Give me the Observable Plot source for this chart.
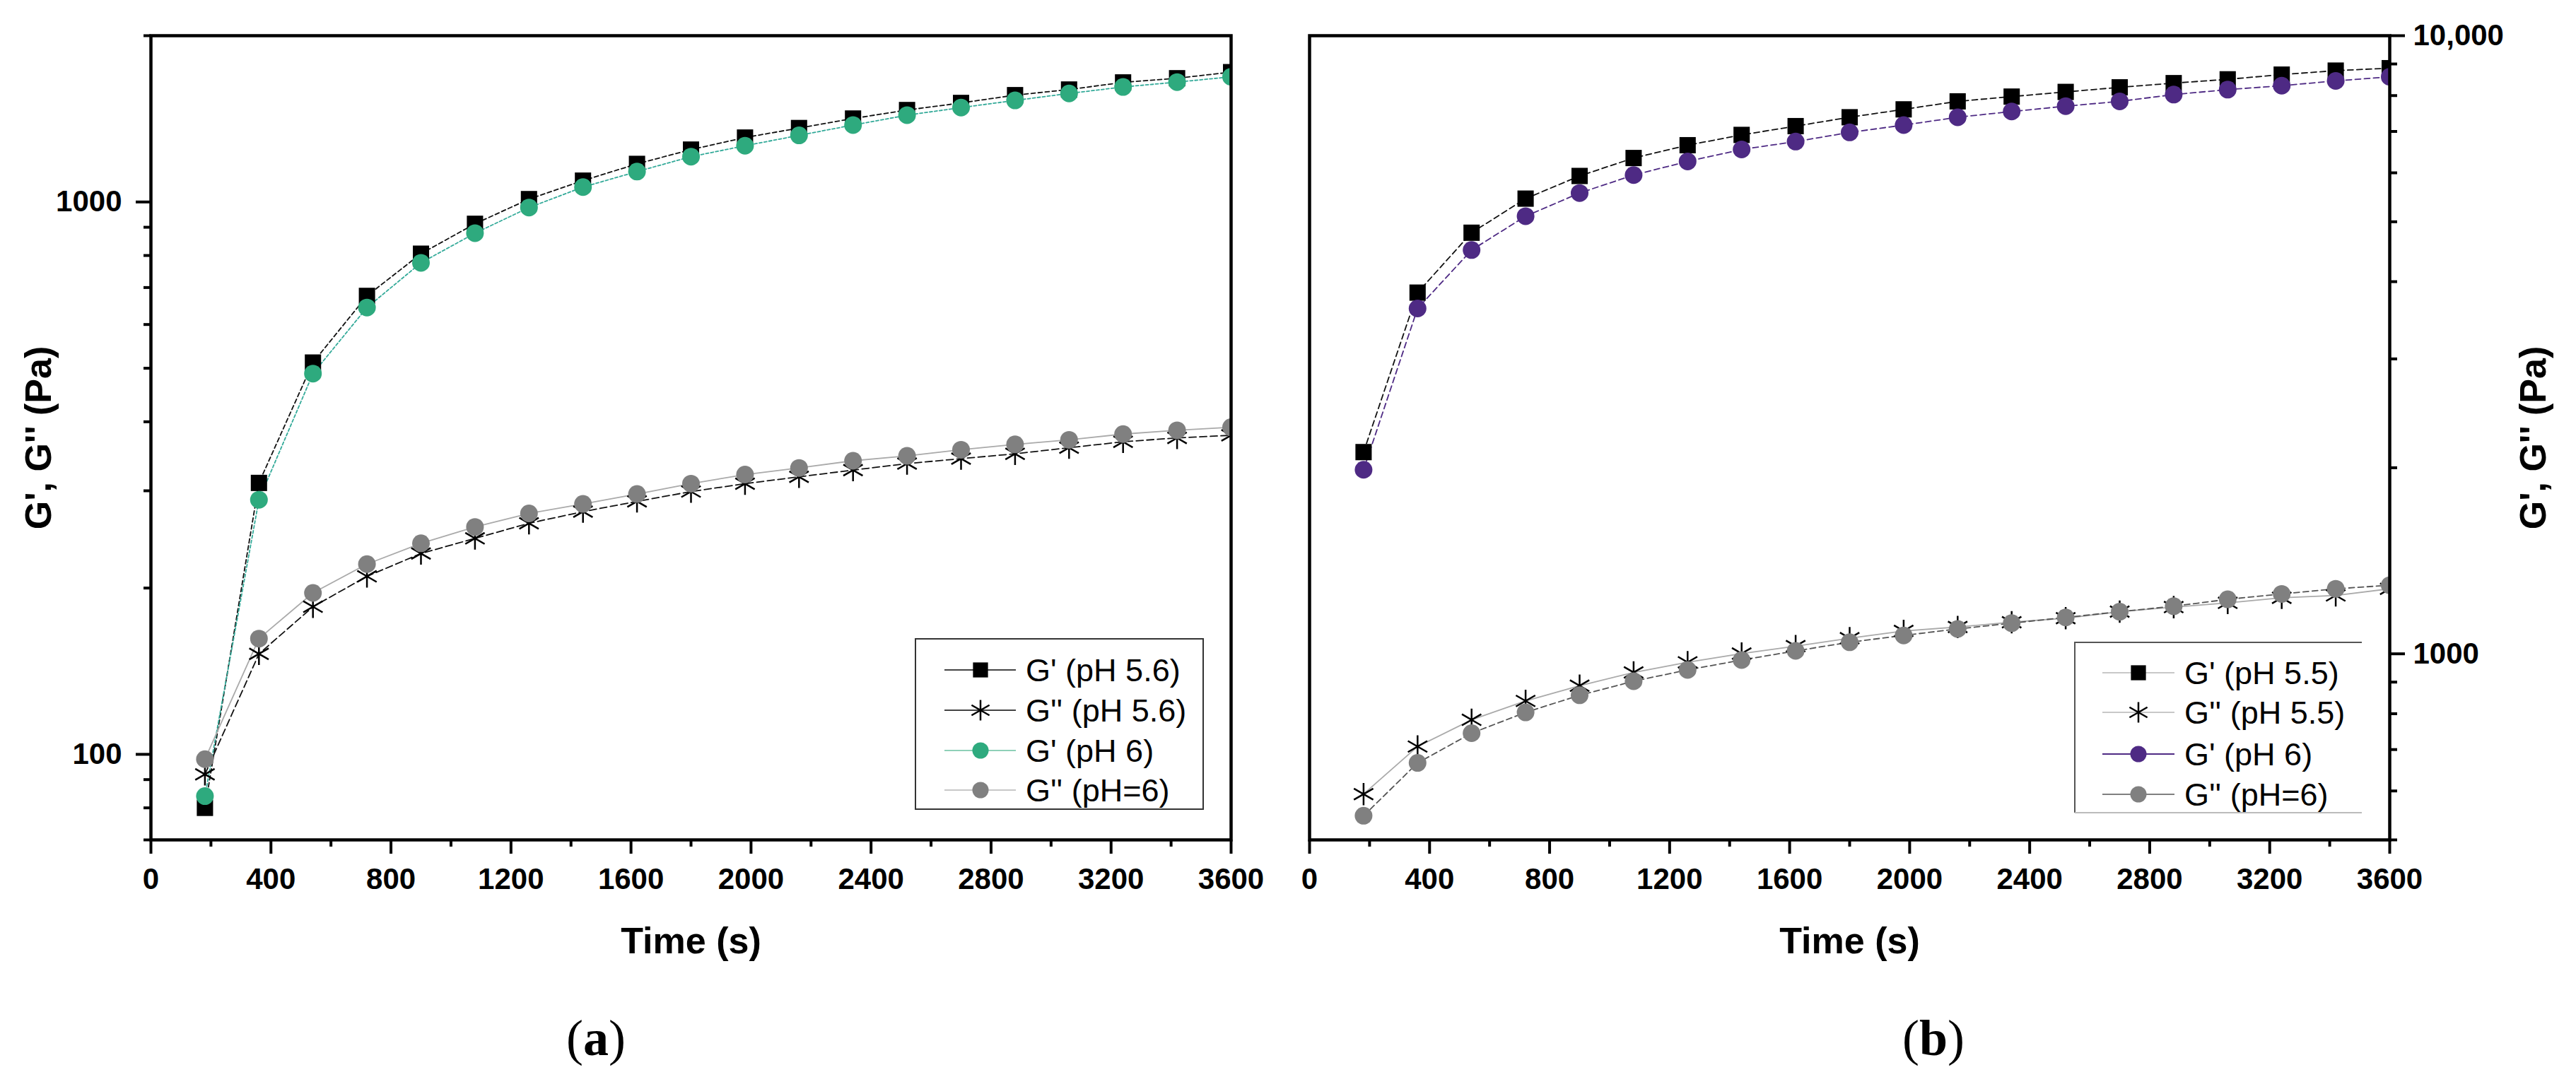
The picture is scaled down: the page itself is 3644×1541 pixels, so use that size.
<!DOCTYPE html>
<html><head><meta charset="utf-8">
<script src="https://cdn.jsdelivr.net/npm/d3@7"></script>
<script src="https://cdn.jsdelivr.net/npm/@observablehq/plot@0.6"></script>
<style>
body{margin:0;background:#fff;}
#fig{position:relative;width:3644px;height:1541px;background:#fff;overflow:hidden;}
.panel{position:absolute;top:0;}
#fig [aria-label="x-axis label"], #fig [aria-label="y-axis label"]{font-size:52px;}
</style></head><body><div id="fig"></div>
<script>
// ---------- data ----------
const time = [180,360,540,720,900,1080,1260,1440,1620,1800,1980,2160,2340,2520,2700,2880,3060,3240,3420,3600];
// panel (a)
const gp56  = [80,310,512,676,806,913,1012,1093,1172,1244,1308,1361,1416,1467,1511,1561,1598,1646,1675,1718];
const gpp56 = [92,152,185,210,231,246,262,275,287,299,309,318,327,336,343,350,359,368,374,378];
const gp6a  = [84,289,489,644,776,878,977,1064,1135,1208,1264,1320,1378,1436,1482,1527,1572,1615,1648,1685];
const gpp6a = [98,162,196,221,241,258,273,284,296,309,321,330,340,347,356,364,371,380,386,391];
// panel (b)
const gp55  = [2120,3840,4800,5450,5930,6340,6650,6910,7140,7380,7600,7830,7970,8110,8250,8380,8500,8650,8780,8860];
const gpp55 = [593,708,782,839,888,933,969,1001,1029,1060,1089,1105,1125,1142,1170,1190,1209,1232,1243,1274];
const gp6b  = [1985,3620,4500,5105,5565,5950,6260,6545,6740,6975,7167,7380,7540,7690,7830,8030,8180,8300,8450,8580];
const gpp6b = [547,666,744,804,857,903,942,977,1011,1044,1071,1097,1121,1145,1170,1194,1225,1250,1274,1291];
// ticks
const xMajor = [0,400,800,1200,1600,2000,2400,2800,3200,3600];
const xMinor = [200,600,1000,1400,1800,2200,2600,3000,3400];
const yMajorA = [100,1000];
const yMajorLabelsA = ["100","1000"];
const yMinorA = [70,80,90,200,300,400,500,600,700,800,900,2000];
const yMajorB = [1000,10000];
const yMajorLabelsB = ["1000","10,000"];
const yMinorB = [500,600,700,800,900,2000,3000,4000,5000,6000,7000,8000,9000];
const legendA = ["G' (pH 5.6)","G'' (pH 5.6)","G' (pH 6)","G'' (pH=6)"];
const legendB = ["G' (pH 5.5)","G'' (pH 5.5)","G' (pH 6)","G'' (pH=6)"];
const xLabel = "Time (s)";
const yLabel = "G', G'' (Pa)";

// ---------- styles ----------
const GREEN = "#2EAA7E", PURPLE = "#4E2A84", GRAY = "#808080";
const seriesA = [
  {values: gp56,  symbol:"square",   fill:"black", stroke:"none", sw:0, r:13, line:"#111", dash:"6,4", lw:1.8, legLine:"#444"},
  {values: gpp56, symbol:"asterisk", fill:"none", stroke:"black", sw:2.5, r:15, line:"#111", dash:"10,5", lw:1.8, legLine:"#444"},
  {values: gp6a,  symbol:"circle",   fill:GREEN, stroke:"none", sw:0, r:12.5, line:"#3a9", dash:"4,3", lw:1.8, legLine:"#8fd0b8"},
  {values: gpp6a, symbol:"circle",   fill:GRAY, stroke:"none", sw:0, r:12.5, line:"#aaa", dash:null, lw:1.8, legLine:"#c8c8c8"}
];
const seriesB = [
  {values: gp55,  symbol:"square",   fill:"black", stroke:"none", sw:0, r:13, line:"#111", dash:"8,5", lw:1.8, legLine:"#c8c8c8"},
  {values: gpp55, symbol:"asterisk", fill:"none", stroke:"black", sw:2.5, r:15, line:"#aaa", dash:null, lw:1.8, legLine:"#c8c8c8"},
  {values: gp6b,  symbol:"circle",   fill:PURPLE, stroke:"none", sw:0, r:12.5, line:PURPLE, dash:"8,5", lw:1.8, legLine:PURPLE},
  {values: gpp6b, symbol:"circle",   fill:GRAY, stroke:"none", sw:0, r:12.5, line:"#555", dash:"8,5", lw:1.8, legLine:GRAY}
];

function makePanel({series, yDomain, yMajor, yMajorLabels, yMinor, anchor, width, ml, mr, tickPad, labelOffset}) {
  const marks = [];
  for (const s of series) {
    const data = time.map((t,i) => ({t, v: s.values[i]}));
    marks.push(Plot.line(data, {x:"t", y:"v", stroke:s.line, strokeWidth:s.lw, strokeDasharray:s.dash, clip:true}));
  }
  for (const s of series) {
    const data = time.map((t,i) => ({t, v: s.values[i]}));
    marks.push(Plot.dot(data, {x:"t", y:"v", symbol:s.symbol, r:s.r, fill:s.fill, stroke:s.stroke, strokeWidth:s.sw, clip:true}));
  }
  marks.push(
    Plot.axisX(xMajor, {tickSize:20, tickPadding:20, strokeWidth:4, tickFormat:d => String(d), label:xLabel, labelAnchor:"center", labelOffset:160, labelArrow:"none"}),
    Plot.axisX(xMinor, {tickSize:10, strokeWidth:4, tickFormat:() => "", label:null}),
    Plot.axisY(yMajor, {anchor, tickSize:21, tickPadding:tickPad, strokeWidth:4, tickFormat:d => yMajorLabels[yMajor.indexOf(d)], label:yLabel, labelAnchor:"center", labelOffset, labelArrow:"none"}),
    Plot.axisY(yMinor, {anchor, tickSize:10, strokeWidth:4, tickFormat:() => "", label:null}),
    Plot.frame({stroke:"black", strokeWidth:4.5})
  );
  return Plot.plot({
    width, height:1400, marginLeft:ml, marginRight:mr, marginTop:50, marginBottom:212,
    x:{domain:[0,3600]},
    y:{type:"log", domain:yDomain},
    style:{fontFamily:"'Liberation Sans', Arial, sans-serif", fontSize:"42px", fontWeight:"bold", color:"black", background:"transparent", overflow:"visible"},
    marks
  });
}

const fig = document.getElementById("fig");
const pa = makePanel({series:seriesA, yDomain:[70,2000], yMajor:yMajorA, yMajorLabels:yMajorLabelsA, yMinor:yMinorA, anchor:"left", width:1800, ml:213, mr:59, tickPad:20, labelOffset:178});
const pb = makePanel({series:seriesB, yDomain:[500,10000], yMajor:yMajorB, yMajorLabels:yMajorLabelsB, yMinor:yMinorB, anchor:"right", width:1844, ml:52, mr:264, tickPad:12, labelOffset:220});
for (const [p, left, w] of [[pa,0,1800],[pb,1800,1844]]) {
  const d = document.createElement("div");
  d.className = "panel"; d.style.left = left + "px"; d.style.width = w + "px";
  p.style.maxWidth = "none";
  d.appendChild(p); fig.appendChild(d);
}

// ---------- overlay: legends + captions ----------
const ov = d3.select(fig).append("svg").attr("width",3644).attr("height",1541)
  .style("position","absolute").style("left","0").style("top","0").style("pointer-events","none");

function legend(box, series, labels) {
  const g = ov.append("g");
  const {x0,y0,x1,y1,full,cx,l0,l1,tx,rows} = box;
  if (full) g.append("rect").attr("x",x0).attr("y",y0).attr("width",x1-x0).attr("height",y1-y0).attr("fill","white").attr("stroke","#333").attr("stroke-width",2);
  else {
    g.append("rect").attr("x",x0).attr("y",y0).attr("width",x1-x0).attr("height",y1-y0).attr("fill","white");
    g.append("path").attr("d",`M${x1},${y0}H${x0}V${y1}`).attr("fill","none").attr("stroke","#555").attr("stroke-width",2);
    g.append("path").attr("d",`M${x0},${y1}H${x1}`).attr("fill","none").attr("stroke","#bbb").attr("stroke-width",2);
  }
  series.forEach((s,i) => {
    const y = rows[i];
    g.append("line").attr("x1",l0).attr("x2",l1).attr("y1",y).attr("y2",y).attr("stroke",s.legLine).attr("stroke-width",2);
    const typ = {square:d3.symbolSquare, asterisk:d3.symbolAsterisk, circle:d3.symbolCircle}[s.symbol];
    g.append("path").attr("d", d3.symbol(typ, Math.PI*s.r*s.r*0.85)()).attr("transform",`translate(${cx},${y})`)
      .attr("fill",s.fill).attr("stroke",s.stroke).attr("stroke-width",s.sw);
    g.append("text").attr("x",tx).attr("y",y).attr("dy","0.36em").text(labels[i])
      .attr("font-family","'Liberation Sans', Arial, sans-serif").attr("font-size",45).attr("fill","black");
  });
}
legend({x0:1295,y0:904,x1:1702,y1:1145,full:true,cx:1387,l0:1336,l1:1437,tx:1451,rows:[948,1005,1062,1118]}, seriesA, legendA);
legend({x0:2935,y0:909,x1:3341,y1:1150,full:false,cx:3025,l0:2974,l1:3076,tx:3090,rows:[952,1008,1067,1124]}, seriesB, legendB);

for (const [cx, letter] of [[843,"a"],[2735,"b"]]) {
  const t = ov.append("text").attr("x",cx).attr("y",1493).attr("text-anchor","middle")
    .attr("font-family","'Liberation Serif', 'Times New Roman', serif").attr("font-size",72).attr("fill","black");
  t.append("tspan").text("(");
  t.append("tspan").attr("font-weight","bold").text(letter);
  t.append("tspan").text(")");
}
</script></body></html>
